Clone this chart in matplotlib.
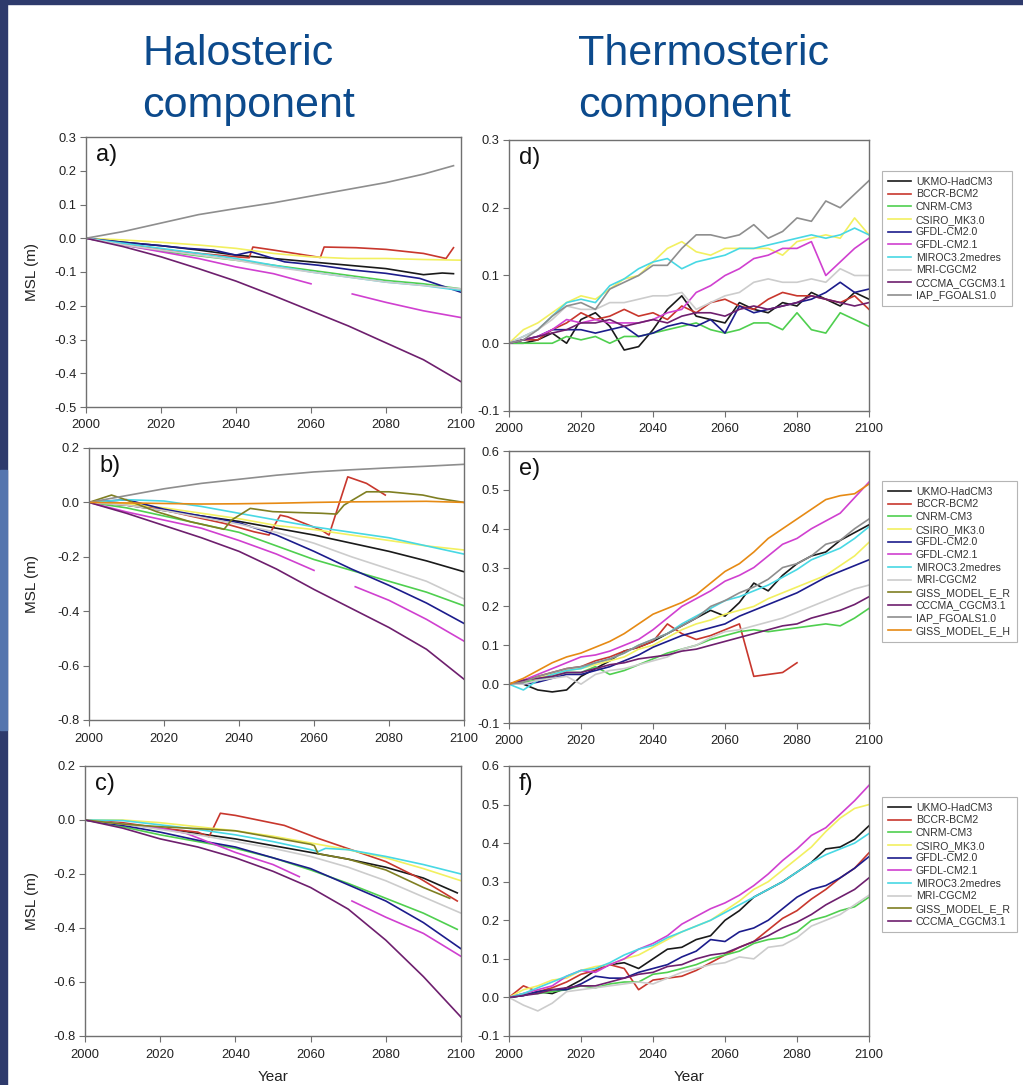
import numpy as np
import matplotlib
matplotlib.use("Agg")
from matplotlib import pyplot as plt
from matplotlib.patches import Rectangle
from matplotlib.transforms import ScaledTranslation

plt.rcParams['font.family'] = ['Liberation Sans', 'DejaVu Sans']
plt.rcParams['axes.unicode_minus'] = False

nan = None
DEC = [2000, 2010, 2020, 2030, 2040, 2050, 2060, 2070, 2080, 2090, 2100]
YEARS_T = list(range(2000, 2101, 4))

# ---- halosteric component: (years, MSL in m) per model ----
HALO_A = {
    "UKMO-HadCM3": ([2000, 2010, 2020, 2030, 2040, 2050, 2060, 2070, 2080, 2090, 2095, 2098],
                    [0, -0.012, -0.022, -0.035, -0.05, -0.06, -0.07, -0.08, -0.09, -0.108, -0.103, -0.105]),
    "BCCR-BCM2": ([2000, 2010, 2020, 2030, 2040, 2043.5, 2044.5, 2050, 2062.5, 2063.5, 2072, 2080, 2090, 2096, 2098],
                  [0, -0.015, -0.033, -0.045, -0.055, -0.058, -0.026, -0.035, -0.057, -0.026, -0.028, -0.033, -0.045, -0.06, -0.028]),
    "CNRM-CM3": (DEC, [0, -0.02, -0.038, -0.052, -0.065, -0.08, -0.095, -0.11, -0.125, -0.135, -0.15]),
    "CSIRO_MK3.0": (DEC, [0, -0.005, -0.012, -0.02, -0.03, -0.045, -0.055, -0.06, -0.06, -0.063, -0.065]),
    "GFDL-CM2.0": ([2000, 2010, 2020, 2027, 2034, 2040, 2044, 2053, 2062, 2071, 2080, 2089, 2100],
                   [0, -0.012, -0.022, -0.03, -0.035, -0.05, -0.04, -0.07, -0.08, -0.094, -0.104, -0.119, -0.16]),
    "GFDL-CM2.1": ([2000, 2010, 2020, 2030, 2040, 2050, 2060, 2060.5, 2071, 2080, 2090, 2100],
                   [0, -0.02, -0.04, -0.06, -0.085, -0.105, -0.135, nan, -0.165, -0.19, -0.215, -0.235]),
    "MIROC3.2medres": (DEC, [0, -0.015, -0.03, -0.045, -0.06, -0.08, -0.1, -0.115, -0.13, -0.14, -0.155]),
    "MRI-CGCM2": (DEC, [0, -0.02, -0.035, -0.05, -0.065, -0.085, -0.1, -0.115, -0.13, -0.14, -0.15]),
    "CCCMA_CGCM3.1": (DEC, [0, -0.025, -0.055, -0.09, -0.127, -0.17, -0.215, -0.26, -0.31, -0.36, -0.425]),
    "IAP_FGOALS1.0": ([2000, 2010, 2020, 2030, 2040, 2050, 2060, 2070, 2080, 2090, 2098],
                      [0, 0.02, 0.045, 0.07, 0.088, 0.105, 0.125, 0.145, 0.165, 0.19, 0.215]),
}

HALO_B = {
    "UKMO-HadCM3": (DEC, [0, -0.01, -0.03, -0.05, -0.07, -0.095, -0.12, -0.15, -0.18, -0.215, -0.255]),
    "BCCR-BCM2": ([2000, 2010, 2018, 2027, 2036, 2044, 2048, 2051, 2053, 2062, 2064, 2069, 2074, 2079],
                  [0, -0.01, -0.022, -0.05, -0.077, -0.108, -0.12, -0.047, -0.053, -0.102, -0.12, 0.094, 0.07, 0.027]),
    "CNRM-CM3": (DEC, [0, -0.02, -0.05, -0.08, -0.11, -0.16, -0.21, -0.25, -0.29, -0.33, -0.38]),
    "CSIRO_MK3.0": (DEC, [0, -0.005, -0.02, -0.04, -0.06, -0.085, -0.1, -0.12, -0.14, -0.16, -0.175]),
    "GFDL-CM2.0": (DEC, [0, 0.01, -0.025, -0.05, -0.075, -0.12, -0.18, -0.245, -0.305, -0.37, -0.445]),
    "GFDL-CM2.1": ([2000, 2010, 2020, 2030, 2040, 2050, 2060, 2061, 2071, 2080, 2090, 2100],
                   [0, -0.035, -0.065, -0.095, -0.14, -0.19, -0.25, nan, -0.31, -0.36, -0.43, -0.51]),
    "MIROC3.2medres": (DEC, [0, 0.01, 0.005, -0.015, -0.04, -0.065, -0.09, -0.11, -0.13, -0.16, -0.19]),
    "MRI-CGCM2": (DEC, [0, -0.01, -0.03, -0.055, -0.08, -0.11, -0.15, -0.2, -0.245, -0.29, -0.355]),
    "GISS_MODEL_E_R": ([2000, 2006, 2010, 2018, 2027, 2036, 2038, 2043, 2049, 2055, 2062, 2066, 2068, 2074, 2080, 2089, 2093, 2100],
                       [0, 0.027, 0.009, -0.034, -0.071, -0.099, -0.065, -0.022, -0.034, -0.037, -0.04, -0.043, -0.01, 0.039, 0.039, 0.027, 0.015, 0.0]),
    "CCCMA_CGCM3.1": (DEC, [0, -0.04, -0.085, -0.13, -0.18, -0.245, -0.32, -0.39, -0.46, -0.54, -0.65]),
    "IAP_FGOALS1.0": (DEC, [0, 0.025, 0.05, 0.07, 0.085, 0.1, 0.112, 0.12, 0.127, 0.133, 0.14]),
    "GISS_MODEL_E_H": (DEC, [0, -0.002, -0.004, -0.006, -0.005, -0.003, 0.0, 0.002, 0.003, 0.004, 0.0]),
}

HALO_C = {
    "UKMO-HadCM3": ([2000, 2010, 2020, 2030, 2040, 2050, 2060, 2070, 2080, 2090, 2099],
                    [0, -0.015, -0.03, -0.05, -0.07, -0.095, -0.12, -0.145, -0.175, -0.215, -0.27]),
    "BCCR-BCM2": ([2000, 2010, 2020, 2030, 2033, 2036, 2040, 2053, 2062, 2071, 2080, 2089, 2099],
                  [0, -0.01, -0.03, -0.045, -0.062, 0.025, 0.017, -0.02, -0.068, -0.111, -0.154, -0.216, -0.3]),
    "CNRM-CM3": ([2000, 2010, 2020, 2030, 2040, 2050, 2060, 2070, 2080, 2090, 2099],
                 [0, -0.025, -0.055, -0.08, -0.105, -0.14, -0.185, -0.235, -0.29, -0.345, -0.405]),
    "CSIRO_MK3.0": (DEC, [0, 0.0, -0.01, -0.025, -0.04, -0.06, -0.085, -0.11, -0.14, -0.18, -0.225]),
    "GFDL-CM2.0": (DEC, [0, -0.02, -0.045, -0.075, -0.1, -0.14, -0.18, -0.24, -0.3, -0.38, -0.477]),
    "GFDL-CM2.1": ([2000, 2010, 2020, 2027, 2040, 2050, 2057, 2058, 2071, 2080, 2090, 2100],
                   [0, -0.015, -0.03, -0.05, -0.12, -0.165, -0.21, nan, -0.3, -0.36, -0.42, -0.505]),
    "MIROC3.2medres": ([2000, 2010, 2020, 2030, 2040, 2050, 2060, 2062, 2064, 2070, 2080, 2090, 2100],
                       [0, -0.002, -0.018, -0.035, -0.055, -0.08, -0.11, -0.117, -0.105, -0.11, -0.135, -0.165, -0.2]),
    "MRI-CGCM2": (DEC, [0, -0.015, -0.035, -0.055, -0.08, -0.105, -0.135, -0.175, -0.225, -0.285, -0.345]),
    "GISS_MODEL_E_R": ([2000, 2010, 2020, 2030, 2040, 2050, 2060, 2061, 2062, 2070, 2080, 2090, 2097],
                       [0, -0.015, -0.025, -0.032, -0.04, -0.065, -0.09, -0.095, -0.125, -0.145, -0.185, -0.25, -0.29]),
    "CCCMA_CGCM3.1": (DEC, [0, -0.03, -0.07, -0.1, -0.14, -0.19, -0.25, -0.33, -0.445, -0.58, -0.73]),
}

# ---- thermosteric component: MSL (m) every 4 years, 2000-2100 ----
THERMO_D = {
    "UKMO-HadCM3": [0, 0.0, 0.005, 0.015, 0.0, 0.035, 0.045, 0.025, -0.01, -0.005, 0.02, 0.05, 0.07,
                    0.04, 0.035, 0.03, 0.06, 0.05, 0.045, 0.06, 0.055, 0.075, 0.065, 0.055, 0.075, 0.065],
    "BCCR-BCM2": [0, 0.005, 0.005, 0.02, 0.03, 0.045, 0.035, 0.04, 0.05, 0.04, 0.045, 0.035, 0.055,
                  0.045, 0.06, 0.065, 0.055, 0.05, 0.065, 0.075, 0.07, 0.07, 0.065, 0.06, 0.07, 0.05],
    "CNRM-CM3": [0, 0.0, 0.0, 0.0, 0.01, 0.005, 0.01, 0.0, 0.01, 0.01, 0.015, 0.02, 0.025,
                 0.03, 0.02, 0.015, 0.02, 0.03, 0.03, 0.02, 0.045, 0.02, 0.015, 0.045, 0.035, 0.025],
    "CSIRO_MK3.0": [0, 0.02, 0.03, 0.045, 0.06, 0.07, 0.065, 0.08, 0.095, 0.1, 0.12, 0.14, 0.15,
                    0.135, 0.13, 0.14, 0.14, 0.14, 0.14, 0.13, 0.15, 0.155, 0.16, 0.155, 0.185, 0.16],
    "GFDL-CM2.0": [0, 0.005, 0.01, 0.02, 0.02, 0.02, 0.015, 0.02, 0.025, 0.01, 0.015, 0.025, 0.03,
                   0.025, 0.035, 0.015, 0.055, 0.045, 0.05, 0.055, 0.06, 0.065, 0.075, 0.09, 0.075, 0.08],
    "GFDL-CM2.1": [0, 0.005, 0.01, 0.02, 0.035, 0.03, 0.035, 0.03, 0.03, 0.03, 0.035, 0.045, 0.05,
                   0.075, 0.085, 0.1, 0.11, 0.125, 0.13, 0.14, 0.14, 0.15, 0.1, 0.12, 0.14, 0.155],
    "MIROC3.2medres": [0, 0.01, 0.02, 0.04, 0.06, 0.065, 0.06, 0.085, 0.095, 0.11, 0.12, 0.125, 0.11,
                       0.12, 0.125, 0.13, 0.14, 0.14, 0.145, 0.15, 0.155, 0.16, 0.155, 0.16, 0.17, 0.16],
    "MRI-CGCM2": [0, 0.01, 0.02, 0.035, 0.055, 0.05, 0.05, 0.06, 0.06, 0.065, 0.07, 0.07, 0.075,
                  0.05, 0.06, 0.07, 0.075, 0.09, 0.095, 0.09, 0.09, 0.095, 0.09, 0.11, 0.1, 0.1],
    "CCCMA_CGCM3.1": [0, 0.005, 0.01, 0.015, 0.02, 0.03, 0.03, 0.035, 0.025, 0.03, 0.035, 0.03, 0.04,
                      0.045, 0.045, 0.04, 0.05, 0.055, 0.05, 0.055, 0.06, 0.07, 0.065, 0.06, 0.055, 0.06],
    "IAP_FGOALS1.0": [0, 0.005, 0.02, 0.04, 0.055, 0.06, 0.05, 0.08, 0.09, 0.1, 0.115, 0.115, 0.14,
                      0.16, 0.16, 0.155, 0.16, 0.175, 0.155, 0.165, 0.185, 0.18, 0.21, 0.2, 0.22, 0.24],
}

THERMO_E = {
    "UKMO-HadCM3": [0, 0.0, -0.015, -0.02, -0.015, 0.02, 0.04, 0.06, 0.085, 0.095, 0.11, 0.13, 0.15,
                    0.17, 0.19, 0.175, 0.21, 0.26, 0.24, 0.28, 0.31, 0.33, 0.34, 0.37, 0.39, 0.41],
    "BCCR-BCM2": [0, 0.01, 0.02, 0.03, 0.04, 0.045, 0.06, 0.07, 0.085, 0.095, 0.11, 0.155, 0.13,
                  0.115, 0.125, 0.14, 0.155, 0.02, 0.025, 0.03, 0.055, nan, nan, nan, nan, nan],
    "CNRM-CM3": [0, 0.005, 0.01, 0.02, 0.03, 0.03, 0.045, 0.025, 0.035, 0.05, 0.065, 0.08, 0.09,
                 0.1, 0.115, 0.125, 0.135, 0.14, 0.135, 0.14, 0.145, 0.15, 0.155, 0.15, 0.17, 0.195],
    "CSIRO_MK3.0": [0, 0.01, 0.015, 0.025, 0.035, 0.04, 0.05, 0.06, 0.07, 0.09, 0.1, 0.12, 0.14,
                    0.155, 0.165, 0.18, 0.19, 0.2, 0.22, 0.235, 0.25, 0.265, 0.28, 0.305, 0.33, 0.365],
    "GFDL-CM2.0": [0, 0.0, 0.005, 0.015, 0.025, 0.025, 0.035, 0.045, 0.06, 0.075, 0.095, 0.11, 0.125,
                   0.135, 0.145, 0.155, 0.175, 0.19, 0.205, 0.22, 0.235, 0.255, 0.275, 0.29, 0.305, 0.32],
    "GFDL-CM2.1": [0, 0.01, 0.025, 0.04, 0.055, 0.07, 0.075, 0.085, 0.1, 0.115, 0.14, 0.17, 0.2,
                   0.22, 0.24, 0.265, 0.28, 0.3, 0.33, 0.36, 0.375, 0.4, 0.42, 0.44, 0.48, 0.52],
    "MIROC3.2medres": [0, -0.015, 0.01, 0.025, 0.035, 0.04, 0.055, 0.065, 0.08, 0.1, 0.115, 0.13, 0.155,
                       0.175, 0.195, 0.215, 0.225, 0.24, 0.255, 0.275, 0.295, 0.32, 0.335, 0.35, 0.375, 0.405],
    "MRI-CGCM2": [0, 0.0, 0.01, 0.015, 0.02, 0.0, 0.025, 0.035, 0.04, 0.05, 0.06, 0.07, 0.09,
                  0.1, 0.12, 0.135, 0.14, 0.15, 0.16, 0.17, 0.185, 0.2, 0.215, 0.23, 0.245, 0.255],
    "GISS_MODEL_E_R": [nan] * 26,
    "CCCMA_CGCM3.1": [0, 0.01, 0.015, 0.02, 0.03, 0.03, 0.04, 0.05, 0.055, 0.065, 0.07, 0.075, 0.085,
                      0.09, 0.1, 0.11, 0.12, 0.13, 0.14, 0.15, 0.155, 0.17, 0.18, 0.19, 0.205, 0.225],
    "IAP_FGOALS1.0": [0, 0.005, 0.02, 0.03, 0.04, 0.045, 0.055, 0.065, 0.08, 0.1, 0.115, 0.13, 0.15,
                      0.17, 0.2, 0.215, 0.235, 0.25, 0.27, 0.3, 0.31, 0.33, 0.36, 0.37, 0.4, 0.425],
    "GISS_MODEL_E_H": [0, 0.015, 0.035, 0.055, 0.07, 0.08, 0.095, 0.11, 0.13, 0.155, 0.18, 0.195, 0.21,
                       0.23, 0.26, 0.29, 0.31, 0.34, 0.375, 0.4, 0.425, 0.45, 0.475, 0.485, 0.49, 0.515],
}

THERMO_F = {
    "UKMO-HadCM3": [0, 0.005, 0.015, 0.01, 0.025, 0.045, 0.07, 0.085, 0.09, 0.075, 0.1, 0.125, 0.13,
                    0.15, 0.16, 0.2, 0.225, 0.26, 0.28, 0.3, 0.325, 0.35, 0.385, 0.39, 0.41, 0.445],
    "BCCR-BCM2": [0, 0.03, 0.015, 0.025, 0.04, 0.06, 0.07, 0.085, 0.075, 0.02, 0.045, 0.05, 0.055,
                  0.07, 0.09, 0.11, 0.13, 0.145, 0.175, 0.205, 0.225, 0.255, 0.28, 0.31, 0.335, 0.375],
    "CNRM-CM3": [0, 0.01, 0.01, 0.015, 0.02, 0.03, 0.025, 0.035, 0.04, 0.04, 0.06, 0.065, 0.075,
                 0.085, 0.1, 0.11, 0.12, 0.14, 0.15, 0.155, 0.17, 0.2, 0.21, 0.225, 0.235, 0.26],
    "CSIRO_MK3.0": [0, 0.02, 0.03, 0.045, 0.05, 0.07, 0.08, 0.085, 0.1, 0.11, 0.13, 0.15, 0.17,
                    0.185, 0.2, 0.225, 0.25, 0.28, 0.3, 0.33, 0.36, 0.39, 0.43, 0.465, 0.49, 0.5],
    "GFDL-CM2.0": [0, 0.005, 0.015, 0.02, 0.02, 0.035, 0.055, 0.05, 0.05, 0.065, 0.075, 0.085, 0.105,
                   0.12, 0.15, 0.145, 0.17, 0.18, 0.2, 0.23, 0.26, 0.28, 0.29, 0.31, 0.335, 0.365],
    "GFDL-CM2.1": [0, 0.01, 0.02, 0.03, 0.055, 0.07, 0.065, 0.085, 0.1, 0.125, 0.14, 0.16, 0.19,
                   0.21, 0.23, 0.245, 0.265, 0.29, 0.32, 0.355, 0.385, 0.42, 0.44, 0.475, 0.51, 0.55],
    "MIROC3.2medres": [0, 0.01, 0.025, 0.04, 0.055, 0.07, 0.075, 0.09, 0.11, 0.125, 0.135, 0.155, 0.17,
                       0.185, 0.2, 0.22, 0.24, 0.26, 0.28, 0.3, 0.325, 0.35, 0.37, 0.385, 0.4, 0.425],
    "MRI-CGCM2": [0, -0.02, -0.035, -0.015, 0.015, 0.02, 0.025, 0.03, 0.035, 0.04, 0.035, 0.05, 0.065,
                  0.075, 0.085, 0.09, 0.105, 0.1, 0.13, 0.135, 0.155, 0.185, 0.2, 0.215, 0.24, 0.265],
    "GISS_MODEL_E_R": [nan] * 26,
    "CCCMA_CGCM3.1": [0, 0.005, 0.01, 0.02, 0.025, 0.03, 0.03, 0.04, 0.05, 0.06, 0.065, 0.08, 0.085,
                      0.1, 0.11, 0.115, 0.13, 0.145, 0.16, 0.18, 0.195, 0.215, 0.24, 0.26, 0.28, 0.31],
}

COLORS = {
    "UKMO-HadCM3": "#1a1a1a",
    "BCCR-BCM2": "#c8372d",
    "CNRM-CM3": "#4fcf4f",
    "CSIRO_MK3.0": "#f2f060",
    "GFDL-CM2.0": "#1c1c8c",
    "GFDL-CM2.1": "#d040d0",
    "MIROC3.2medres": "#48d8e4",
    "MRI-CGCM2": "#cccccc",
    "GISS_MODEL_E_R": "#7f7f22",
    "CCCMA_CGCM3.1": "#6e1f6e",
    "IAP_FGOALS1.0": "#8e8e8e",
    "GISS_MODEL_E_H": "#e68a14",
}

W, H = 1023, 1085


def rect(l, t, r, b):
    return [l / W, 1 - b / H, (r - l) / W, (b - t) / H]


def style_axes(ax, ylim, ystep, letter):
    ax.set_xlim(2000, 2100)
    ax.set_ylim(*ylim)
    ax.set_xticks(range(2000, 2101, 20))
    ticks = np.round(np.arange(ylim[0], ylim[1] + 1e-9, ystep), 2) + 0.0
    ax.set_yticks(ticks)
    ax.set_yticklabels(['%.1f' % (t if abs(t) > 1e-9 else 0.0) for t in ticks])
    for s in ax.spines.values():
        s.set_color('#707070')
        s.set_linewidth(1.0)
    ax.tick_params(direction='out', length=4, width=0.8, color='#707070',
                   labelsize=9.3, labelcolor='#222222', pad=3)
    ax.tick_params(axis='x', pad=5)
    off = ScaledTranslation(10 / 100, -7 / 100, fig.dpi_scale_trans)
    ax.text(0, 1, letter, transform=ax.transAxes + off,
            fontsize=17, va='top', ha='left', color='#111111')


fig = plt.figure(figsize=(W / 100, H / 100), dpi=100)

# slide border
fig.add_artist(Rectangle((0, 0), 7 / W, 1, transform=fig.transFigure, color='#2e3a6c', zorder=0))
fig.add_artist(Rectangle((0, 1 - 730 / H), 7 / W, 260 / H, transform=fig.transFigure, color='#5575ae', zorder=0))
fig.add_artist(Rectangle((0, 1 - 4 / H), 1, 4 / H, transform=fig.transFigure, color='#2e3a6c', zorder=0))

# column titles
title_kw = dict(fontsize=31, color='#0c4a8c', ha='left', va='baseline')
fig.text(142 / W, 1 - 65 / H, "Halosteric", **title_kw)
fig.text(142 / W, 1 - 117 / H, "component", **title_kw)
fig.text(578 / W, 1 - 65 / H, "Thermosteric", **title_kw)
fig.text(578 / W, 1 - 117 / H, "component", **title_kw)

halo_axes = [
    (rect(86, 137, 461, 407), HALO_A, (-0.5, 0.3), 0.1, "a)"),
    (rect(89, 448, 464, 720), HALO_B, (-0.8, 0.2), 0.2, "b)"),
    (rect(85, 766, 461, 1036), HALO_C, (-0.8, 0.2), 0.2, "c)"),
]
thermo_axes = [
    (rect(509, 140, 869, 411), THERMO_D, (-0.1, 0.3), "d)", 171),
    (rect(509, 451, 869, 723), THERMO_E, (-0.1, 0.6), "e)", 481),
    (rect(509, 766, 869, 1036), THERMO_F, (-0.1, 0.6), "f)", 797),
]

for pos, data, ylim, ystep, letter in halo_axes:
    ax = fig.add_axes(pos)
    for name, (yrs, vals) in data.items():
        ax.plot(yrs, np.array(vals, dtype=float), color=COLORS[name], lw=1.2)
    style_axes(ax, ylim, ystep, letter)

for pos, data, ylim, letter, leg_top in thermo_axes:
    ax = fig.add_axes(pos)
    for name, vals in data.items():
        ax.plot(YEARS_T, np.array(vals, dtype=float), color=COLORS[name], lw=1.2, label=name)
    style_axes(ax, ylim, 0.1, letter)
    leg = ax.legend(loc='upper left', bbox_to_anchor=(882 / W, 1 - leg_top / H),
                    bbox_transform=fig.transFigure, fontsize=7.6, handlelength=2.2,
                    handletextpad=0.45, labelspacing=0.25, borderpad=0.55, borderaxespad=0,
                    fancybox=False, framealpha=1, edgecolor='#b5b5b5')
    leg.get_frame().set_linewidth(0.8)
    for t in leg.get_texts():
        t.set_color('#333333')

# shared labels
for yc in (272, 584, 901):
    fig.text(32 / W, 1 - yc / H, "MSL (m)", rotation=90, fontsize=11, ha='center', va='center', color='#222222')
fig.text(273 / W, 1 - 1077 / H, "Year", fontsize=11, ha='center', va='center', color='#222222')
fig.text(689 / W, 1 - 1077 / H, "Year", fontsize=11, ha='center', va='center', color='#222222')

fig.savefig("out.png", dpi=100)
